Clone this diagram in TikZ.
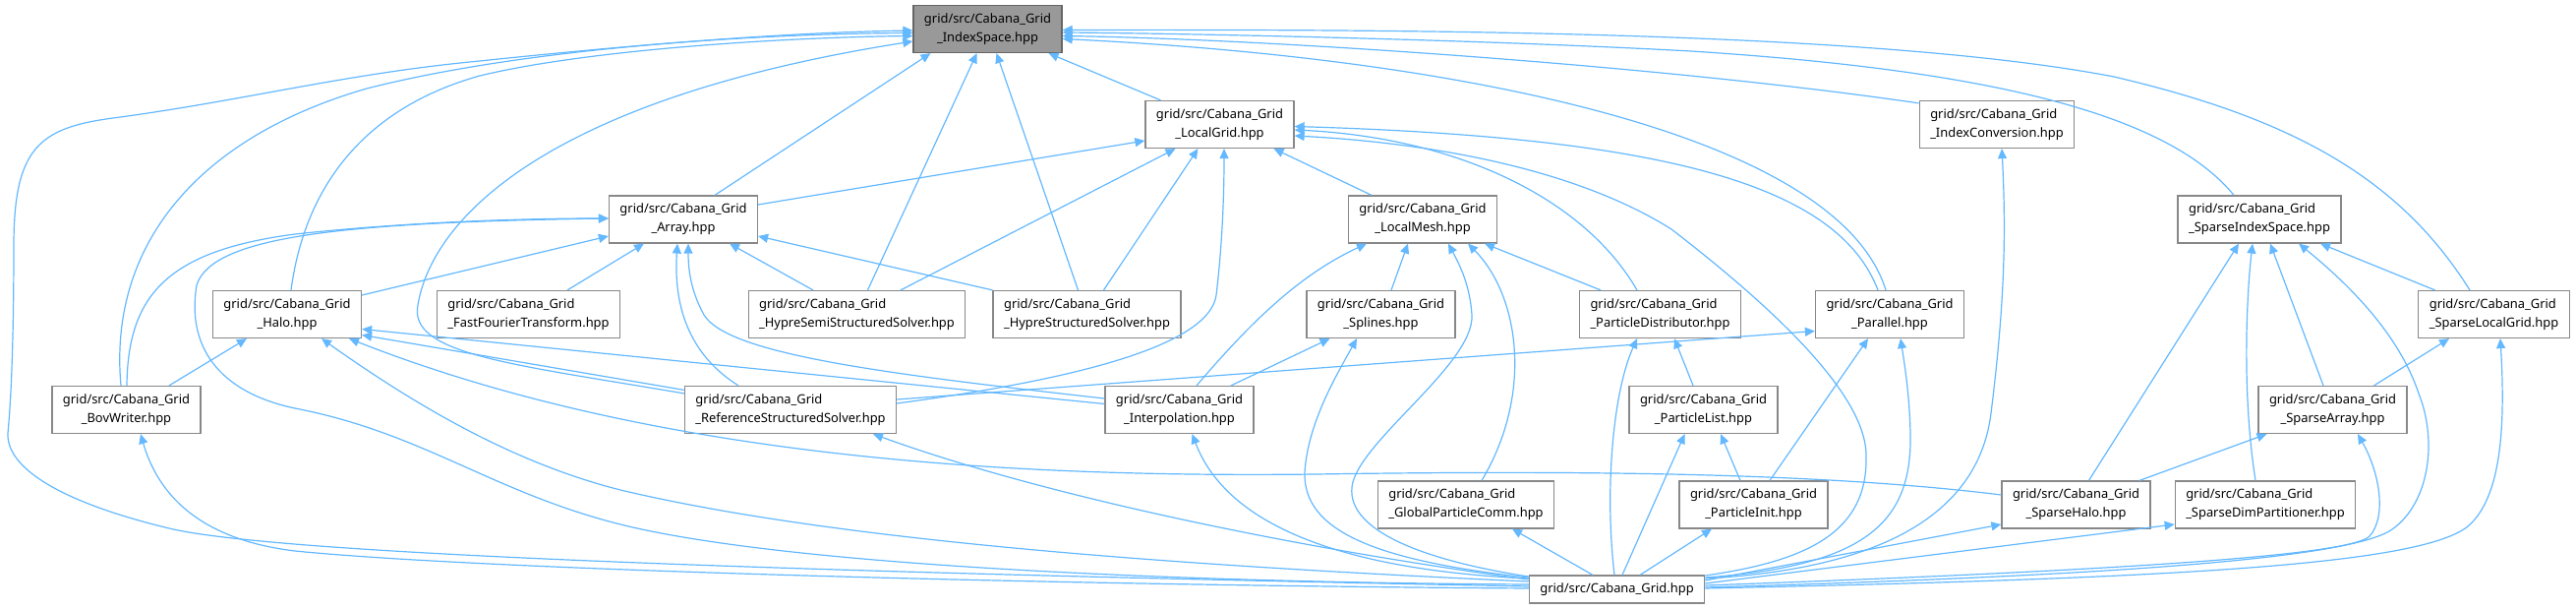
\documentclass[tikz,border=0pt]{standalone}
\usepackage{fontspec}
\setmainfont{Noto Sans}
\usepackage{tikz}
\usetikzlibrary{arrows.meta}
\definecolor{myedge}{RGB}{99,184,255}
\definecolor{myborder}{RGB}{136,136,136}
\definecolor{mygrey}{RGB}{153,153,153}
\definecolor{mygreyd}{RGB}{102,102,102}

\begin{document}
\begin{tikzpicture}[x=1pt,y=-1pt,
hfile/.style={
  draw=myborder,
  fill=white,
  line width=1.2pt,
  font={\fontsize{12.9}{19}\selectfont},
  align=center,
  inner xsep=11pt,
  inner ysep=0pt,
  minimum height=48pt},
hfilel/.style={hfile,align=left},
rootf/.style={hfile,fill=mygrey,draw=mygreyd},
incl/.style={draw=myedge,line width=1.2pt,-{Triangle[length=10pt,width=9pt]}},
]
\useasboundingbox (0,0) rectangle (2620,620);
% rank 0-2
\node[rootf] (is) at (1004.5,29.5) {grid/src/Cabana\_Grid\\\_IndexSpace.hpp};
\node[hfile] (lg) at (1240.5,126.5) {grid/src/Cabana\_Grid\\\_LocalGrid.hpp};
\node[hfilel] (ic) at (2031,126.5) {grid/src/Cabana\_Grid\\\_IndexConversion.hpp};
\node[hfile] (ar) at (695,223) {grid/src/Cabana\_Grid\\\_Array.hpp};
\node[hfile] (lm) at (1447,223) {grid/src/Cabana\_Grid\\\_LocalMesh.hpp};
\node[hfilel] (sis) at (2298,223) {grid/src/Cabana\_Grid\\\_SparseIndexSpace.hpp};
% rank 3
\node[hfile] (ha) at (292,319.5) {grid/src/Cabana\_Grid\\\_Halo.hpp};
\node[hfilel] (fft) at (537.5,319.5) {grid/src/Cabana\_Grid\\\_FastFourierTransform.hpp};
\node[hfilel] (hss) at (871.5,319.5) {grid/src/Cabana\_Grid\\\_HypreSemiStructuredSolver.hpp};
\node[hfilel] (hs) at (1105.5,319.5) {grid/src/Cabana\_Grid\\\_HypreStructuredSolver.hpp};
\node[hfile] (sp) at (1404.5,319.5) {grid/src/Cabana\_Grid\\\_Splines.hpp};
\node[hfilel] (pd) at (1688.5,319.5) {grid/src/Cabana\_Grid\\\_ParticleDistributor.hpp};
\node[hfile] (pa) at (1922,319.5) {grid/src/Cabana\_Grid\\\_Parallel.hpp};
\node[hfilel] (slg) at (2536.5,319.5) {grid/src/Cabana\_Grid\\\_SparseLocalGrid.hpp};
% rank 4
\node[hfile] (bov) at (128.5,416.5) {grid/src/Cabana\_Grid\\\_BovWriter.hpp};
\node[hfilel] (rss) at (804,416.5) {grid/src/Cabana\_Grid\\\_ReferenceStructuredSolver.hpp};
\node[hfile] (ip) at (1199.5,416.5) {grid/src/Cabana\_Grid\\\_Interpolation.hpp};
\node[hfile] (pl) at (1732.5,416.5) {grid/src/Cabana\_Grid\\\_ParticleList.hpp};
\node[hfile] (sa) at (2372.5,416.5) {grid/src/Cabana\_Grid\\\_SparseArray.hpp};
% rank 5-6
\node[hfilel] (gpc) at (1491,513) {grid/src/Cabana\_Grid\\\_GlobalParticleComm.hpp};
\node[hfile] (pi) at (1783.5,513) {grid/src/Cabana\_Grid\\\_ParticleInit.hpp};
\node[hfile] (sh) at (2111.5,513) {grid/src/Cabana\_Grid\\\_SparseHalo.hpp};
\node[hfilel] (sdp) at (2304,513) {grid/src/Cabana\_Grid\\\_SparseDimPartitioner.hpp};
\node[hfile,minimum height=28pt] (cg) at (1644.5,599) {grid/src/Cabana\_Grid.hpp};

% into IndexSpace
\draw[incl] ([xshift=-60]lg.north) -- ([xshift=62]is.south);
\draw[incl] ([xshift=32]ar.north) -- ([xshift=-58]is.south);
\draw[incl] ([xshift=11]hss.north) -- ([xshift=-11]is.south);
\draw[incl] ([xshift=-9]hs.north) -- ([xshift=9]is.south);
\draw[incl] ([yshift=-3]ic.north west) .. controls (1700,68) and (1300,40) .. ([yshift=-7]is.east);
\draw[incl] ([xshift=-4]pa.north) .. controls (1870,140) and (1500,60) .. ([yshift=-10]is.east);
\draw[incl] ([xshift=-26]sis.north) .. controls (2200,110) and (2000,70) .. (1720,52) .. controls (1500,40) and (1200,34) .. ([yshift=-3.5]is.east);
\draw[incl] ([xshift=-24.5]slg.north) .. controls (2440,180) and (2330,120) .. (2150,78) .. controls (1900,30) and (1400,30) .. ([yshift=-1]is.east);
\draw[incl] ([xshift=4]ha.north) .. controls (310,190) and (370,110) .. (488,77) .. controls (600,50) and (800,38) .. ([yshift=-7]is.west);
\draw[incl] ([xshift=-5.5]bov.north) .. controls (110,250) and (200,140) .. (373,90) .. controls (550,45) and (800,34) .. ([yshift=-4]is.west);
\draw[incl] ([yshift=-8]rss.north west) .. controls (520,370) and (415,360) .. (425,310) .. controls (440,220) and (560,100) .. ([yshift=-12.5]is.west);
\draw[incl] ([yshift=3]cg.west) .. controls (1000,585) and (300,568) .. (172,537) .. controls (60,510) and (6,475) .. (8,440)
  .. controls (12,400) and (14,330) .. (14,250) .. controls (14,150) and (40,130) .. (115,120)
  .. controls (250,102) and (350,75) .. (488,62) .. controls (650,45) and (800,33) .. ([yshift=-1.5]is.west);

% into LocalGrid
\draw[incl] ([yshift=15]ar.east) -- ([yshift=-16.5]lg.west);
\draw[incl] ([xshift=44.5]hss.north) -- ([xshift=-45]lg.south);
\draw[incl] ([xshift=17]hs.north) -- ([xshift=-22]lg.south);
\draw[incl] ([xshift=-52]lm.north) -- ([xshift=55]lg.south);
\draw[incl] ([yshift=6.5]rss.east) .. controls (1100,385) and (1230,350) .. (1237,300) .. controls (1243,250) and (1245,200) .. ([xshift=4.5]lg.south);
\draw[incl] ([xshift=-23.5]pd.north) .. controls (1610,200) and (1480,140) .. ([yshift=-5.5]lg.east);
\draw[incl] ([xshift=-12]pa.north) .. controls (1870,190) and (1700,140) .. ([yshift=-2]lg.east);
\draw[incl] ([yshift=14]cg.east) .. controls (1840,570) and (1900,540) .. (1898,463) .. controls (1898,400) and (1800,310) .. (1700,233)
  .. controls (1600,170) and (1450,145) .. ([yshift=-11.5]lg.east);

% into Array
\draw[incl] ([yshift=19.5]ha.east) -- ([yshift=-17]ar.west);
\draw[incl] ([xshift=39.5]fft.north) -- ([xshift=-40]ar.south);
\draw[incl] ([xshift=-44.5]hss.north) -- ([xshift=47]ar.south);
\draw[incl] (hs.north west) -- ([yshift=-17]ar.east);
\draw[incl] ([xshift=-53]rss.north) .. controls (700,360) and (685,310) .. ([xshift=-6]ar.south);
\draw[incl] ([yshift=11.5]ip.west) .. controls (900,380) and (740,360) .. (716,320) .. controls (705,300) and (700,280) .. ([xshift=5]ar.south);
\draw[incl] ([xshift=0.5]bov.north) .. controls (130,300) and (170,255) .. (300,238) .. controls (420,225) and (540,222) .. ([yshift=1]ar.west);
\draw[incl] ([yshift=5]cg.west) .. controls (1200,592) and (800,575) .. (631,533) .. controls (500,500) and (430,440) .. (300,415)
  .. controls (220,398) and (190,350) .. (200,290) .. controls (215,240) and (350,226) .. ([yshift=1]ar.west);

% into Halo
\draw[incl] ([xshift=43.5]bov.north) -- ([xshift=-41]ha.south);
\draw[incl] ([yshift=-4.5]rss.north west) -- ([yshift=-21]ha.east);
\draw[incl] ([yshift=6]ip.west) -- ([yshift=-15]ha.east);
\draw[incl] ([yshift=10]sh.west) .. controls (1850,480) and (1600,478) .. (1338,482) .. controls (1000,486) and (650,460) .. ([xshift=63]ha.south);
\draw[incl] ([yshift=8]cg.west) .. controls (1200,575) and (850,550) .. (631,498) .. controls (520,470) and (420,410) .. ([xshift=35]ha.south);

% into LocalMesh
\draw[incl] ([xshift=10.5]sp.north) -- ([xshift=-15]lm.south);
\draw[incl] ([xshift=-60.5]pd.north) -- ([xshift=63]lm.south);
\draw[incl] ([xshift=17.5]ip.north) .. controls (1270,330) and (1320,280) .. ([xshift=-57]lm.south);
\draw[incl] ([xshift=16]gpc.north) .. controls (1560,400) and (1545,300) .. ([xshift=46]lm.south);
\draw[incl] ([yshift=13]cg.west) .. controls (1450,570) and (1370,540) .. (1375,495) .. controls (1380,450) and (1500,370) .. (1497,320)
  .. controls (1495,290) and (1485,270) .. ([xshift=26]lm.south);

% into Splines, Interpolation, ReferenceStructuredSolver
\draw[incl] ([xshift=52.5]ip.north) -- ([xshift=-52]sp.south);
\draw[incl] ([yshift=12]cg.west) .. controls (1400,570) and (1325,540) .. (1327,480) .. controls (1330,430) and (1360,380) .. ([xshift=-24.5]sp.south);
\draw[incl] ([yshift=11]cg.west) .. controls (1380,580) and (1250,540) .. ([xshift=13]ip.south);
\draw[incl] ([yshift=10]cg.west) .. controls (1300,555) and (1050,500) .. ([xshift=84]rss.south);
\draw[incl] ([yshift=1]cg.west) .. controls (1100,595) and (500,580) .. (300,560) .. controls (200,548) and (160,500) .. ([xshift=14.5]bov.south);

% into ParticleDistributor, ParticleList, Parallel
\draw[incl] ([xshift=-10.5]pl.north) -- ([xshift=14.5]pd.south);
\draw[incl] ([xshift=-2.5]cg.north) .. controls (1632,500) and (1640,400) .. ([xshift=-23.5]pd.south);
\draw[incl] ([xshift=5.5]cg.north) -- ([xshift=-19]pl.south);
\draw[incl] ([xshift=-13.5]pi.north) -- ([xshift=17.5]pl.south);
\draw[incl] ([yshift=10.5]rss.east) -- ([yshift=-17]pa.west);
\draw[incl] ([xshift=16.5]pi.north) -- ([xshift=-22]pa.south);
\draw[incl] ([yshift=12]cg.east) .. controls (1900,575) and (1945,530) .. (1943,440) .. controls (1942,400) and (1937,370) .. ([xshift=11]pa.south);

% into GlobalParticleComm, ParticleInit, IndexConversion
\draw[incl] ([xshift=-24.5]cg.north) -- ([xshift=47]gpc.south);
\draw[incl] ([xshift=23.5]cg.north) -- ([xshift=-42.5]pi.south);
\draw[incl] ([yshift=11]cg.east) .. controls (1880,580) and (2010,540) .. (2025,420) .. controls (2040,300) and (2040,230) .. ([xshift=5]ic.south);

% sparse part
\draw[incl] ([xshift=13]sh.north) -- ([xshift=-21]sis.south);
\draw[incl] ([xshift=-10]sdp.north) .. controls (2280,400) and (2285,300) .. ([xshift=-7]sis.south);
\draw[incl] ([xshift=-9.5]sa.north) -- ([xshift=11]sis.south);
\draw[incl] ([xshift=-60]slg.north) -- ([xshift=62]sis.south);
\draw[incl] ([xshift=42]sa.north) -- ([xshift=-45.5]slg.south);
\draw[incl] ([xshift=64.5]sh.north) -- ([xshift=-67]sa.south);
\draw[incl] ([yshift=9]cg.east) -- ([yshift=-20]sh.west);
\draw[incl] ([yshift=6]cg.east) -- ([yshift=-20]sdp.west);
\draw[incl] ([yshift=4]cg.east) .. controls (2150,580) and (2390,565) .. (2410,545) .. controls (2428,525) and (2420,480) .. ([xshift=25.5]sa.south);
\draw[incl] ([yshift=2]cg.east) .. controls (2150,585) and (2380,568) .. (2430,540) .. controls (2470,515) and (2480,450) .. (2460,400)
  .. controls (2440,340) and (2390,290) .. ([xshift=40]sis.south);
\draw[incl] ([yshift=1]cg.east) .. controls (2200,588) and (2460,575) .. (2510,535) .. controls (2545,505) and (2548,430) .. ([xshift=6.5]slg.south);
\end{tikzpicture}
\end{document}
